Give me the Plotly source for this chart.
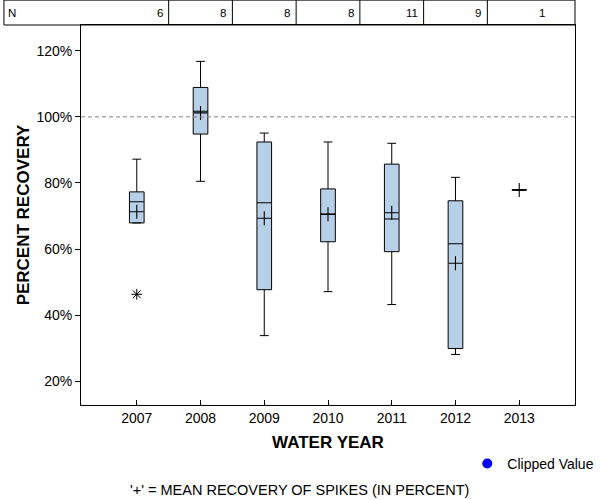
import plotly.graph_objects as go

# ---- data ----
years = ["2007", "2008", "2009", "2010", "2011", "2012", "2013"]
n_counts = [6, 8, 8, 8, 11, 9, 1]
upper_whisker = [87.2, 116.8, 95.1, 92.4, 92.0, 81.7, 77.9]
q3_vals = [77.3, 108.9, 92.4, 78.2, 85.7, 74.6, 77.9]
median_vals = [74.3, 101.7, 74.0, 70.6, 69.1, 61.6, 77.9]
q1_vals = [67.9, 94.8, 47.7, 62.2, 59.2, 29.9, 77.9]
lower_whisker = [67.9, 80.5, 33.8, 47.1, 43.2, 28.1, 77.9]
mean_vals = [71.3, 101.2, 69.3, 70.5, 71.0, 55.7, 77.9]
outlier_years = ["2007"]
outlier_vals = [46.3]
y_ticks = [20, 40, 60, 80, 100, 120]
y_tick_labels = [f"{v}%" for v in y_ticks]
reference_pct = 100

FONT = "Liberation Sans, Arial, sans-serif"
BOX_FILL = "#b8cfe8"

fig = go.Figure()

fig.add_trace(go.Box(
    x=years, q1=q1_vals, median=median_vals, q3=q3_vals,
    lowerfence=lower_whisker, upperfence=upper_whisker,
    fillcolor=BOX_FILL, line=dict(color="black", width=1),
    width=0.23, whiskerwidth=0.6, boxpoints=False, showlegend=False,
    hoverinfo="skip",
))

fig.add_trace(go.Scatter(
    x=years, y=mean_vals, mode="markers", showlegend=False,
    marker=dict(symbol="cross-thin", size=10, color="black",
                line=dict(color="black", width=1.1)),
))

fig.add_trace(go.Scatter(
    x=outlier_years, y=outlier_vals, mode="markers", showlegend=False,
    marker=dict(symbol="asterisk-open", size=9, color="black",
                line=dict(color="black", width=1)),
))

# legend-only entry
fig.add_trace(go.Scatter(
    x=[None], y=[None], mode="markers", name="Clipped Value",
    marker=dict(symbol="circle", size=10, color="blue"),
))

shapes = []
# reference dashed line
shapes.append(dict(type="line", xref="paper", yref="y", x0=0, x1=1,
                   y0=reference_pct, y1=reference_pct,
                   line=dict(color="#808080", width=1, dash="4px,3px")))
# N table outline
table_left = -0.156
table_top = 1.0655
shapes.append(dict(type="rect", xref="paper", yref="paper", x0=table_left, x1=1,
                   y0=1, y1=table_top, line=dict(color="black", width=1)))
for i in range(len(years) - 1):
    shapes.append(dict(type="line", xref="x", yref="paper", x0=i + 0.5, x1=i + 0.5,
                       y0=1, y1=table_top, line=dict(color="black", width=1)))

annotations = []
annotations.append(dict(text="N", xref="paper", yref="paper", x=-0.152, y=1.032,
                        xanchor="left", yanchor="middle", showarrow=False,
                        font=dict(family=FONT, size=11.5, color="black")))
for i, n in enumerate(n_counts):
    annotations.append(dict(text=str(n), xref="x", yref="paper", x=i + 0.5, y=1.032,
                            xanchor="right", yanchor="middle", xshift=-4, showarrow=False,
                            font=dict(family=FONT, size=11.5, color="black")))
annotations.append(dict(text="'+' = MEAN RECOVERY OF SPIKES (IN PERCENT)",
                        xref="paper", yref="paper", x=0.443, y=-0.224,
                        xanchor="center", yanchor="middle", showarrow=False,
                        font=dict(family=FONT, size=14.5, color="black")))

fig.update_layout(
    width=600, height=500,
    margin=dict(l=81, r=25, t=25, b=95, pad=0, autoexpand=False),
    paper_bgcolor="white", plot_bgcolor="white",
    font=dict(family=FONT, size=14, color="black"),
    shapes=shapes, annotations=annotations,
    showlegend=True,
    legend=dict(x=0.782, y=-0.155, xanchor="left", yanchor="middle",
                font=dict(family=FONT, size=14, color="black"),
                bgcolor="rgba(0,0,0,0)", itemclick=False),
    xaxis=dict(
        type="category", categoryorder="array", categoryarray=years,
        range=[-0.875, len(years) - 0.125],
        ticks="inside", ticklen=5, tickcolor="black",
        showline=True, linecolor="black", linewidth=1, mirror=True,
        showgrid=False, zeroline=False, automargin=False,
        tickfont=dict(family=FONT, size=14, color="black"),
        title=dict(text="<b>WATER YEAR</b>", standoff=11,
                   font=dict(family=FONT, size=17, color="black")),
    ),
    yaxis=dict(
        range=[12.8, 127.8], tickmode="array", tickvals=y_ticks, ticktext=y_tick_labels,
        ticks="outside", ticklen=5, tickcolor="black",
        showline=True, linecolor="black", linewidth=1, mirror=True,
        showgrid=False, zeroline=False, automargin=False,
        tickfont=dict(family=FONT, size=14, color="black"),
        title=dict(text="<b>PERCENT RECOVERY</b>", standoff=2,
                   font=dict(family=FONT, size=17, color="black")),
    ),
)

fig.write_html("out.html",
               config={"displayModeBar": False},
               post_script="document.body.style.margin='0';document.body.style.overflow='hidden';")
